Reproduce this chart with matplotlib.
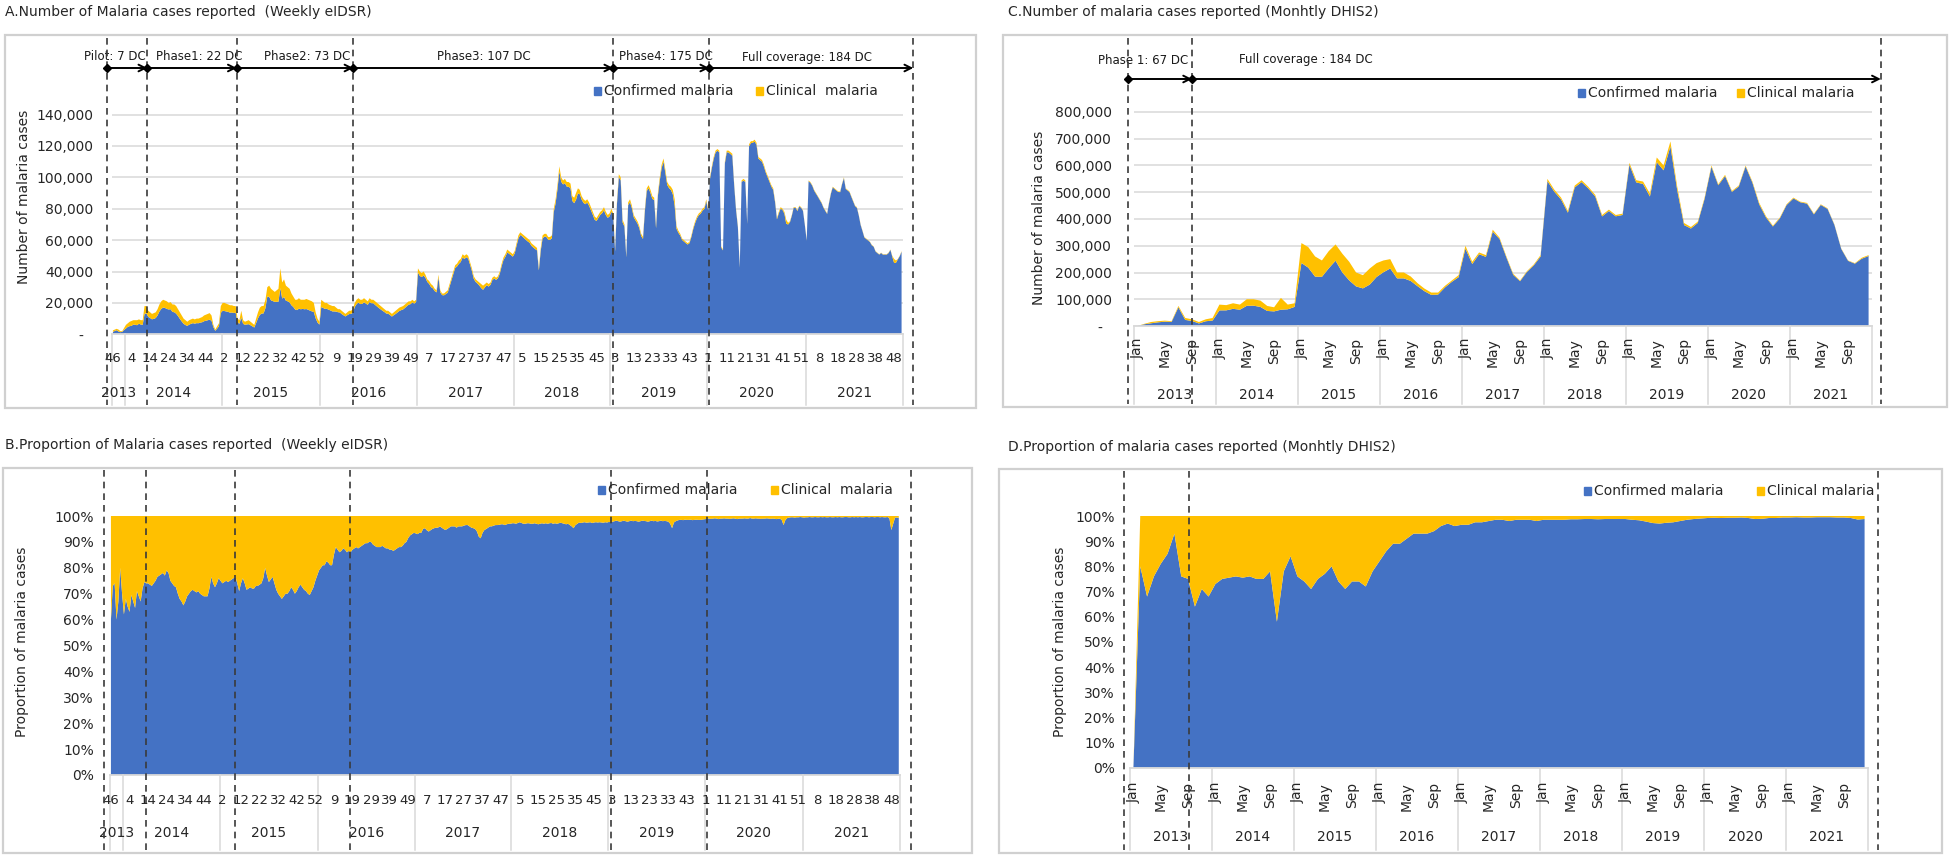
import numpy as np
import matplotlib
matplotlib.use('Agg')
import matplotlib.pyplot as plt
import matplotlib.transforms as mtrans
from matplotlib.patches import Rectangle

# ---------------- DATA ----------------
years = ['2013', '2014', '2015', '2016', '2017', '2018', '2019', '2020', '2021']
weeks_per_year = [7, 52, 53, 52, 52, 52, 52, 53, 52]
week_tick_labels = ['46', '4', '14', '24', '34', '44', '2', '12', '22', '32', '42', '52', '9',
                    '19', '29', '39', '49', '7', '17', '27', '37', '47', '5', '15', '25', '35',
                    '45', '3', '13', '23', '33', '43', '1', '11', '21', '31', '41', '51', '8',
                    '18', '28', '38', '48']
month_tick_labels = ['Jan', 'May', 'Sep']

# weekly total malaria cases (thousands), eIDSR, 2013 w46 .. 2021 w52
week_total_k = [
    2.5, 3, 3.5, 3, 2, 2, 4, 6, 7, 8,
    8.5, 9, 9, 9, 9.5, 9, 9, 18, 18, 15,
    14, 13, 13.5, 14, 16, 19, 21, 22, 21.5, 21,
    20, 20.5, 19, 19, 18, 16, 14, 12, 10, 9,
    8, 9, 9.5, 10, 9.5, 10, 10, 10.5, 11, 12,
    12.5, 13, 13.5, 12, 6, 3, 5, 7, 18, 20,
    20, 19.5, 19, 18.5, 18.5, 18, 18, 10, 9, 15,
    9, 8, 8.5, 9, 8, 7, 6, 10, 14, 17,
    18, 18, 22, 30, 31, 29, 28, 27, 28, 29,
    42, 33, 35, 31, 30, 29, 26, 24, 22, 22,
    23, 22, 22, 22, 22.5, 22, 21.5, 21, 20, 14,
    10, 8, 22, 21, 20, 20, 19, 18.5, 18, 18,
    17, 16, 16, 15, 14, 13, 14, 15, 15, 16,
    20, 22, 23, 22, 22, 23, 22, 21, 23, 22,
    22, 21, 20, 19, 18, 17, 16, 15, 15, 14,
    13, 14, 15, 16, 17, 17.5, 18, 19, 20, 21,
    21, 22, 21, 22, 42, 40, 39, 40, 38, 35,
    34, 32, 31, 29, 28, 38, 28, 26, 26, 27,
    28, 32, 36, 40, 44, 45, 47, 48, 51, 50,
    51, 50, 46, 42, 37, 35, 34, 33, 32, 31,
    32, 33, 32, 33, 36, 37, 36, 37, 40, 45,
    49, 51, 54, 53, 52, 51, 53, 58, 63, 65,
    64, 63, 62, 61, 60, 58, 57, 56, 55, 42,
    55, 63, 64, 64, 62, 62, 63, 80, 86, 95,
    107, 100, 98, 99, 97, 97, 96, 88, 87, 90,
    93, 92, 88, 86, 85, 86, 84, 81, 78, 75,
    74, 76, 78, 79, 81, 78, 76, 77, 80, 77,
    54, 85, 102, 100, 73, 70, 50, 84, 86, 82,
    76, 74, 72, 69, 64, 62, 80, 93, 95, 92,
    88, 87, 69, 90, 100, 108, 112, 105, 97, 95,
    94, 92, 86, 69, 66, 64, 61, 60, 59, 58,
    59, 63, 68, 72, 75, 77, 78, 80, 81, 86,
    80, 100, 107, 113, 117, 118, 117, 56, 54, 110,
    117, 117, 116, 115, 96, 80, 69, 43, 98, 99,
    98, 71, 121, 123, 123, 124, 122, 113, 112, 111,
    108, 104, 101, 98, 95, 93, 85, 74, 78, 81,
    80, 78, 73, 71, 72, 76, 81, 81, 79, 82,
    81, 79, 70, 60, 98, 97, 95, 92, 90, 88,
    86, 84, 81, 79, 77, 84, 90, 94, 93, 92,
    91, 91, 96, 100, 93, 92, 91, 88, 85, 82,
    81, 76, 70, 66, 62, 61, 60, 59, 57, 56,
    53, 52, 51, 52, 51, 51, 51, 52, 54, 50,
    48, 47, 48, 50, 53]

# weekly share of confirmed malaria (%)
week_conf_pct = [
    60, 73, 74, 60, 67, 80, 70, 62, 68, 65,
    63, 69.5, 67, 64.5, 71, 69, 67, 72, 74.5, 74,
    74, 73.5, 73, 74, 75, 76.5, 77, 77.5, 78, 77,
    79, 78, 75, 74, 73, 72.5, 70, 68, 67, 65.5,
    67, 69, 70, 71, 71.5, 71, 70.5, 71, 70, 69.5,
    69, 69, 69, 72, 76.5, 74, 72.5, 74, 76, 75,
    74, 74.5, 75, 74.5, 75, 75.5, 76, 76.5, 74, 71,
    74, 76, 74, 71.5, 72, 72.5, 72, 72, 73, 73,
    73.5, 74, 76, 80, 77, 74.5, 75.5, 76.5, 74, 71.5,
    70, 69, 68, 69, 70, 70, 71, 72.5, 71.5, 70,
    71, 72.5, 73.5, 72.5, 71.5, 71, 70, 69.5, 71, 72.5,
    75, 77, 79, 80, 81, 81, 82.5, 82, 81, 81,
    85, 88, 87, 86, 86.5, 87.5, 87, 86, 86.5, 86,
    87, 87.5, 88, 87.5, 88, 88.5, 89, 89.5, 89.5, 90,
    90, 89, 88.5, 88, 88, 88, 88.5, 88, 87.5, 87.5,
    87, 87, 86.5, 87, 87.5, 88, 88, 88.5, 89.5, 90,
    91.5, 92.5, 93, 93.5, 93.3, 93, 93.5, 93.5, 95, 95.3,
    94.5, 94, 94.5, 95, 95.3, 95.5, 95.5, 96, 95.5, 95,
    94.6, 95, 95.5, 96, 96, 96, 95.5, 96, 96, 96,
    96.3, 96.5, 96.5, 96, 95.5, 95.3, 95, 94, 92, 91.4,
    93.5, 94.6, 95, 95.5, 96, 96, 96.3, 96.5, 96.5, 96.6,
    96.8, 96.8, 96.5, 96.8, 97, 97, 97.2, 97.2, 97, 97.3,
    97.6, 97.3, 97, 97, 97.2, 97.2, 97, 97, 97.2, 97,
    96.8, 97, 97.2, 97, 97.2, 97, 97.2, 97.3, 97, 97.2,
    97, 97.2, 97.4, 97.2, 97, 96.8, 97, 96.5, 96, 95.3,
    96.5, 97, 97.5, 97.3, 97.5, 97.6, 97.4, 97.5, 97.6, 97.3,
    97.5, 97.6, 97.5, 97.6, 97.5, 97.4, 97.6, 97.5, 97.7, 97.6,
    97.8, 98, 98.2, 98, 97.8, 98, 98.2, 98, 97.8, 98,
    98.2, 98, 98.1, 98, 97.8, 98, 98.2, 98.1, 98, 97.8,
    98, 98.2, 98, 98.1, 97.9, 98, 98.2, 98, 98.1, 98,
    97.8, 97, 95.3, 97.5, 98, 98.3, 98.5, 98.5, 98.4, 98.6,
    98.5, 98.5, 98.6, 98.4, 98.5, 98.6, 98.5, 98.5, 98.6, 98.7,
    98.8, 99, 99, 98.9, 99, 99.1, 99, 98.8, 99, 99,
    99.1, 99, 99, 98.9, 99, 99.1, 99, 98.8, 99, 99,
    99, 99.1, 99, 99, 99.2, 99, 99, 99.1, 99, 99,
    98.9, 99, 99, 99.1, 99, 98.9, 99, 99, 98.8, 98.9,
    99, 98.5, 96.5, 98.5, 99.2, 99.4, 99.5, 99.5, 99.4, 99.5,
    99.5, 99.6, 99.5, 99.4, 99.5, 99.5, 99.6, 99.5, 99.5, 99.6,
    99.5, 99.5, 99.6, 99.5, 99.6, 99.5, 99.5, 99.6, 99.5, 99.5,
    99.6, 99.5, 99.6, 99.5, 99.5, 99.6, 99.6, 99.5, 99.5, 99.6,
    99.5, 99.6, 99.5, 99.6, 99.5, 99.5, 99.6, 99.6, 99.5, 99.6,
    99.6, 99.5, 99.6, 99.6, 99.5, 99.6, 99.5, 99.5, 99.6, 99,
    94.6, 97, 99.4, 99.4, 99.3]

# monthly total malaria cases (thousands), DHIS2, Jan 2013 .. Dec 2021
month_total_k = [
    0, 8, 15, 18, 20, 18, 75, 30, 25, 15, 25, 30,
    80, 78, 85, 80, 100, 100, 95, 75, 70, 105, 80, 85,
    310, 295, 260, 245, 280, 305, 270, 240, 200, 190, 215, 235,
    245, 250, 200, 200, 185, 160, 140, 125, 125, 150, 170, 190,
    300, 240, 275, 265, 360, 330, 260, 195, 170, 205, 230, 265,
    550, 510, 480, 430, 525, 545, 520, 490, 415, 435, 415, 420,
    610, 545, 540, 495, 630, 600, 690, 520, 385, 370, 390, 480,
    600, 530, 565, 505, 525, 600, 540, 460, 410, 375, 405, 455,
    480, 465, 460, 420, 455, 440, 380, 290, 245, 235, 255, 265]

# monthly share of confirmed malaria (%)
month_conf_pct = [
    0, 80, 68, 76, 81, 85, 93, 76, 75, 64, 71, 68,
    73, 75, 75.5, 76, 75.5, 76, 75, 75, 78, 58, 78, 84,
    76, 74, 71, 75, 77, 80, 74, 71, 74, 74, 72, 78,
    82, 86, 89, 89, 91, 93, 93, 93, 94, 96, 97, 96,
    96.5, 96.5, 97.5, 97.5, 98, 98.5, 98.5, 98, 98.5, 98.5, 98.5, 98,
    98.5, 98.5, 98.5, 98.5, 98.7, 98.7, 98.8, 98.8, 98.7, 98.8, 98.8, 98.8,
    98.8, 98.5, 98.3, 97.8, 97.2, 97, 97.3, 97.5, 98, 98.5, 98.8, 99,
    99.2, 99.3, 99.2, 99.3, 99.3, 99.4, 99.2, 98.8, 98.9, 99.2, 99.2, 99.4,
    99.4, 99.5, 99.4, 99.4, 99.5, 99.5, 99.5, 99.4, 99.4, 99.2, 98.6, 98.8]

phase_labels_w = ['Pilot: 7 DC', 'Phase1: 22 DC', 'Phase2: 73 DC', 'Phase3: 107 DC',
                  'Phase4: 175 DC', 'Full coverage: 184 DC']
phase_labels_m = ['Phase 1: 67 DC', 'Full coverage : 184 DC']

assert len(week_total_k) == sum(weeks_per_year), len(week_total_k)
assert len(week_conf_pct) == sum(weeks_per_year), len(week_conf_pct)
assert len(month_total_k) == 108 and len(month_conf_pct) == 108

# ---------------- LAYOUT / STYLE ----------------
W, H = 1950, 856
BLUE, YEL = '#4472C4', '#FFC000'
GRID, FRAME, TXT, DASH = '#D9D9D9', '#D0D0D0', '#262626', '#3A3A3A'
plt.rcParams['font.family'] = ['DejaVu Sans']

fig = plt.figure(figsize=(W / 100, H / 100), dpi=100)
fig.patch.set_facecolor('white')


def fx(px):
    return px / W


def fy(py):
    return 1 - py / H


def make_axes(l, r, y0, ppu, ymax):
    top = y0 - ymax * ppu
    return fig.add_axes([fx(l), fy(y0), (r - l) / W, (y0 - top) / H])


def frame(l, t, r, b):
    fig.add_artist(Rectangle((fx(l), fy(b)), (r - l) / W, (b - t) / H, fill=False,
                             edgecolor=FRAME, lw=1.6, transform=fig.transFigure))


def legend(x1, x2, y, clin_text):
    for x, c, lab in [(x1, BLUE, 'Confirmed malaria'), (x2, YEL, clin_text)]:
        fig.add_artist(Rectangle((fx(x - 3.5), fy(y + 4)), 7 / W, 8 / H, color=c,
                                 transform=fig.transFigure))
        fig.text(fx(x + 7), fy(y), lab, fontsize=10, va='center', ha='left', color=TXT)


def style(ax, ylim, yticks, ylabels, pad_px, xlim):
    ax.set_xlim(*xlim)
    ax.set_ylim(*ylim)
    for s in ax.spines.values():
        s.set_visible(False)
    ax.set_xticks([])
    ax.set_yticks(yticks)
    ax.set_yticklabels(ylabels, fontsize=10, color=TXT)
    ax.tick_params(axis='y', length=0, pad=pad_px * 0.72)
    ax.grid(axis='y', color=GRID, lw=1.1)
    ax.set_axisbelow(True)
    ax.set_facecolor('none')


def dashed(ax, xs, ytop, ybot):
    tr = mtrans.blended_transform_factory(ax.transData, fig.transFigure)
    for x in xs:
        ax.plot([x, x], [fy(ytop), fy(ybot)], transform=tr, clip_on=False,
                color=DASH, lw=1.2, ls=(0, (4, 3)), zorder=6)


def cat_axis(ax, y0, ybot, bounds, tick_pos, tick_labs, tick_y, year_y, rot=0):
    tr = mtrans.blended_transform_factory(ax.transData, fig.transFigure)
    ax.plot(ax.get_xlim(), [fy(y0), fy(y0)], transform=tr, clip_on=False, color=GRID, lw=1.3,
            zorder=4)
    for b in bounds:
        ax.plot([b, b], [fy(y0), fy(ybot)], transform=tr, clip_on=False, color=GRID, lw=1.1)
    for p, lab in zip(tick_pos, tick_labs):
        if rot:
            ax.text(p, fy(tick_y), lab, transform=tr, rotation=90, ha='center', va='top',
                    fontsize=10, color=TXT, rotation_mode='default')
        else:
            ax.text(p, fy(tick_y), lab, transform=tr, ha='center', va='center', fontsize=9.5,
                    color=TXT)
    for i, yr in enumerate(years):
        c = (bounds[i] + bounds[i + 1]) / 2
        ax.text(c, fy(year_y), yr, transform=tr, ha='center', va='center', fontsize=10,
                color=TXT)


def phases(ax, bounds, label_x, labels, y_arrow, y_text):
    tr = mtrans.blended_transform_factory(ax.transData, fig.transFigure)
    for i, lab in enumerate(labels):
        a, b = bounds[i], bounds[i + 1]
        ax.annotate('', xy=(b, fy(y_arrow)), xytext=(a, fy(y_arrow)), xycoords=tr,
                    textcoords=tr, annotation_clip=False,
                    arrowprops=dict(arrowstyle='->', color='black', lw=1.4, shrinkA=0,
                                    shrinkB=0, mutation_scale=12))
        ax.plot([a], [fy(y_arrow)], marker='D', ms=4, color='black', transform=tr,
                clip_on=False, zorder=7)
        ax.text(label_x[i], fy(y_text), lab, transform=tr, ha='center', va='center',
                fontsize=8.5, color='#1A1A1A')


# derived series
wk = np.arange(len(week_total_k))
wt = np.array(week_total_k) * 1000
wp = np.array(week_conf_pct)
wconf = wt * wp / 100
wclin = wt - wconf

mo = np.arange(len(month_total_k))
mt = np.array(month_total_k) * 1000
mp = np.array(month_conf_pct)
mconf = mt * mp / 100
mclin = mt - mconf
mclin_pct = np.where(mt > 0, 100 - mp, 0)

ends = np.cumsum(weeks_per_year)
wbounds = [-0.5] + list(ends - 0.5)
mbounds = [-0.5 + 12 * i for i in range(10)]
wtick_pos = list(range(0, len(wk), 10))[:len(week_tick_labels)]
mtick_pos = list(range(0, 108, 4))
mtick_labs = month_tick_labels * 9
wxlim = (-0.5, len(wk) - 0.5)
mxlim = (-0.5, 107.5)

# ---------------- PANEL A ----------------
frame(5, 35, 976, 408)
fig.text(fx(5), fy(12), 'A.Number of Malaria cases reported  (Weekly eIDSR)', fontsize=10,
         va='center', ha='left', color=TXT)
axA = make_axes(112, 902.5, 334.3, 31.4 / 20000, 142000)
axA.stackplot(wk, wconf, wclin, colors=[BLUE, YEL], lw=0, zorder=2)
yt = list(range(0, 140001, 20000))
style(axA, (0, 142000), yt, ['-  '] + [f'{v:,}' for v in yt[1:]], 19, wxlim)
cat_axis(axA, 334.3, 405, wbounds, wtick_pos, week_tick_labels, 359, 393)
dashed(axA, [-3, 18.5, 66.6, 129.3, 269.0, 320.6, 430.3], 38, 405)
phases(axA, [-3, 18.5, 66.6, 129.3, 269.0, 320.6, 430.3], [1, 46.3, 104.5, 199.5, 297.5, 373],
       phase_labels_w, 68, 57)
legend(597, 759, 91, 'Clinical  malaria')
fig.text(fx(24), fy(197), 'Number of malaria cases', rotation=90, fontsize=10, va='center',
         ha='center', color=TXT)

# ---------------- PANEL B ----------------
frame(3, 468, 972, 853)
fig.text(fx(5), fy(445), 'B.Proportion of Malaria cases reported  (Weekly eIDSR)', fontsize=10,
         va='center', ha='left', color=TXT)
axB = make_axes(110, 899.7, 775, 2.59, 100)
axB.stackplot(wk, wp, 100 - wp, colors=[BLUE, YEL], lw=0, zorder=2)
pt = list(range(0, 101, 10))
style(axB, (0, 100), pt, [f'{v}%' for v in pt], 16, wxlim)
axB.grid(False)
cat_axis(axB, 775, 850, wbounds, wtick_pos, week_tick_labels, 800, 833)
dashed(axB, [-3.5, 18.7, 66.8, 128.8, 269.1, 320.6, 430.4], 470, 850)
legend(601, 774, 490, 'Clinical  malaria')
fig.text(fx(22), fy(642), 'Proportion of malaria cases', rotation=90, fontsize=10,
         va='center', ha='center', color=TXT)

# ---------------- PANEL C ----------------
frame(1003.5, 35, 1946.5, 407)
fig.text(fx(1008), fy(12), 'C.Number of malaria cases reported (Monhtly DHIS2)', fontsize=10,
         va='center', ha='left', color=TXT)
axC = make_axes(1134, 1872, 326, 214 / 800000, 810000)
axC.stackplot(mo, mconf, mclin, colors=[BLUE, YEL], lw=0, zorder=2)
yt = list(range(0, 800001, 100000))
style(axC, (0, 810000), yt, ['-  '] + [f'{v:,}' for v in yt[1:]], 22, mxlim)
cat_axis(axC, 326, 404, mbounds, mtick_pos, mtick_labs, 338, 395, rot=90)
dashed(axC, [-1.4, 8.0, 108.8], 38, 404)
phases(axC, [-1.4, 8.0, 108.8], [0.9, 24.7], phase_labels_m, 79, 60)
legend(1581, 1740, 93, 'Clinical malaria')
fig.text(fx(1039), fy(218), 'Number of malaria cases', rotation=90, fontsize=10, va='center',
         ha='center', color=TXT)

# ---------------- PANEL D ----------------
frame(999, 469, 1942, 853)
fig.text(fx(1008), fy(447), 'D.Proportion of malaria cases reported (Monhtly DHIS2)',
         fontsize=10, va='center', ha='left', color=TXT)
axD = make_axes(1130, 1868, 767.7, 2.517, 100)
axD.stackplot(mo, mp, mclin_pct, colors=[BLUE, YEL], lw=0, zorder=2)
style(axD, (0, 100), pt, [f'{v}%' for v in pt], 15, mxlim)
axD.grid(False)
cat_axis(axD, 767.7, 850, mbounds, mtick_pos, mtick_labs, 782, 837, rot=90)
dashed(axD, [-1.45, 8.1, 108.96], 471, 850)
legend(1587, 1760, 491, 'Clinical malaria')
fig.text(fx(1060), fy(642), 'Proportion of malaria cases', rotation=90, fontsize=10,
         va='center', ha='center', color=TXT)

fig.savefig('out.png', dpi=100, facecolor='white')
